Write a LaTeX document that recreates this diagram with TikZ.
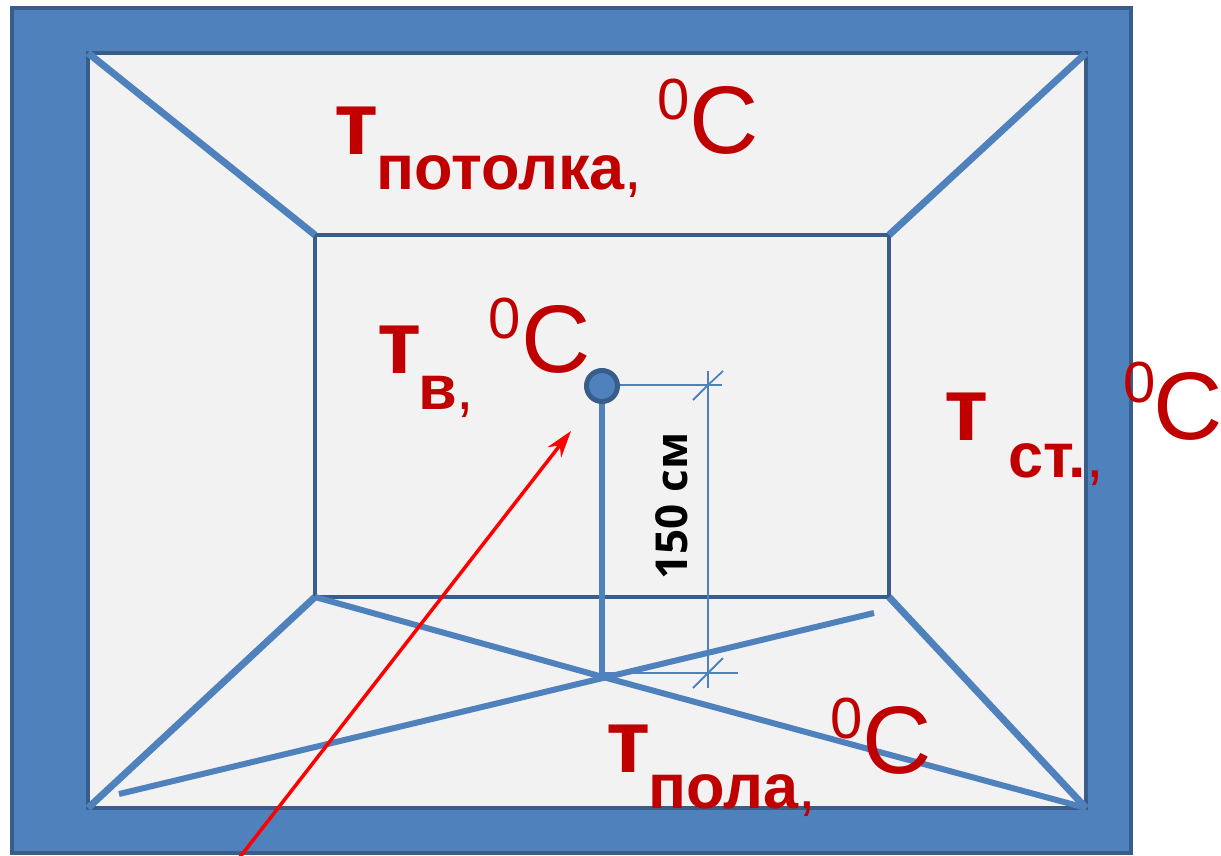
\documentclass[tikz,border=0pt]{standalone}
\usepackage{fontspec}
\setmainfont{Liberation Sans}
\newfontfamily\labelfont{Open Sans}
\usetikzlibrary{arrows.meta}
\definecolor{wallblue}{HTML}{4F81BD}
\definecolor{edgeblue}{HTML}{385D8A}
\definecolor{roomgrey}{HTML}{F2F2F2}
\definecolor{textred}{HTML}{C00000}
\tikzset{
  x=1pt,y=-1pt,
  rim/.style={draw=edgeblue,line width=4.5pt},
  ridge/.style={draw=wallblue,line width=7pt},
  floorline/.style={draw=wallblue,line width=6pt},
  dim/.style={draw=wallblue,line width=1.8pt},
  bigt/.style={font=\fontsize{90}{90}\selectfont\bfseries,text=textred,inner sep=0pt,anchor=base west},
  sub/.style={font=\fontsize{63}{63}\selectfont\bfseries,text=textred,inner sep=0pt,anchor=base west},
  deg/.style={font=\fontsize{58}{58}\selectfont,text=textred,inner sep=0pt,anchor=base west},
  cel/.style={font=\fontsize{96}{96}\selectfont,text=textred,inner sep=0pt,anchor=base west},
}
\newcommand{\thincomma}{{\fontsize{63}{63}\selectfont\mdseries,}}
\begin{document}
\begin{tikzpicture}
\useasboundingbox (0,0) rectangle (1221,855);
\fill[white] (0,0) rectangle (1221,855);
% corners
\coordinate (o1) at (12,8); \coordinate (o2) at (1131,853);
\coordinate (a) at (88,53); \coordinate (b) at (1086,53);
\coordinate (c) at (1086,808); \coordinate (d) at (88,808);
\coordinate (e) at (315,235); \coordinate (f) at (889,235);
\coordinate (g) at (889,597); \coordinate (h) at (315,597);
\filldraw[rim,fill=wallblue] (o1) rectangle (o2);
\filldraw[rim,fill=roomgrey] (a) rectangle (c);
\draw[rim] (e) rectangle (g);
\draw[ridge] (a) -- (e);
\draw[ridge] (b) -- (f);
\draw[ridge] (c) -- (g);
\draw[ridge] (d) -- (h);
% floor cross
\coordinate (x1) at (119,794); \coordinate (x2) at (874,613);
\coordinate (base) at (603,677);
\draw[floorline] (h) -- (base) -- (c);
\draw[floorline] (x1) -- (x2);
% stand and lamp
\coordinate (lamp) at (602,386);
\draw[floorline] (lamp) -- (lamp |- base);
% dimension
\coordinate (t1) at (708,385); \coordinate (t2) at (708,673);
\coordinate (e1) at (722,385); \coordinate (e2) at (738,673);
\coordinate (vt) at (708,371); \coordinate (vb) at (708,688);
\draw[dim] (lamp |- t1) -- (e1);
\draw[dim] (base |- t2) -- (e2);
\draw[dim] (vt) -- (vb);
\draw[dim] (693,400) -- (t1) -- (723,371);
\draw[dim] (693,688) -- (t2) -- (723,658);
\node[circle,draw=edgeblue,fill=wallblue,line width=5pt,minimum size=31pt,inner sep=0pt] (lampdot) at (lamp) {};
\node[font=\labelfont\fontsize{44}{44}\selectfont\bfseries,rotate=90,inner sep=0pt] (dimlabel) at (672,506) {150 см};
% red arrow
\coordinate (r1) at (240,857); \coordinate (r2) at (571,431);
\draw[red,line width=3.5pt,-{Stealth[length=27pt,width=17pt]}] (r1) -- (r2);
% labels
\node[bigt] (t1a) at (334,154) {т};
\node[sub] (t1b) at (376,189) {потолка\thincomma};
\node[deg] (t1c) at (657,119) {0};
\node[cel] (t1d) at (689,153) {C};
\node[bigt] (t2a) at (377,373) {т};
\node[sub] (t2b) at (418,409) {в\thincomma};
\node[deg] (t2c) at (488,338) {0};
\node[cel] (t2d) at (521,372) {C};
\node[bigt] (t3a) at (944,440) {т};
\node[sub] (t3b) at (1008,477) {ст.\thincomma};
\node[deg] (t3c) at (1123,402) {0};
\node[cel] (t3d) at (1153,439) {C};
\node[bigt] (t4a) at (606,772) {т};
\node[sub] (t4b) at (648,808) {пола\thincomma};
\node[deg] (t4c) at (830,738) {0};
\node[cel] (t4d) at (862,773) {C};
\end{tikzpicture}
\end{document}
